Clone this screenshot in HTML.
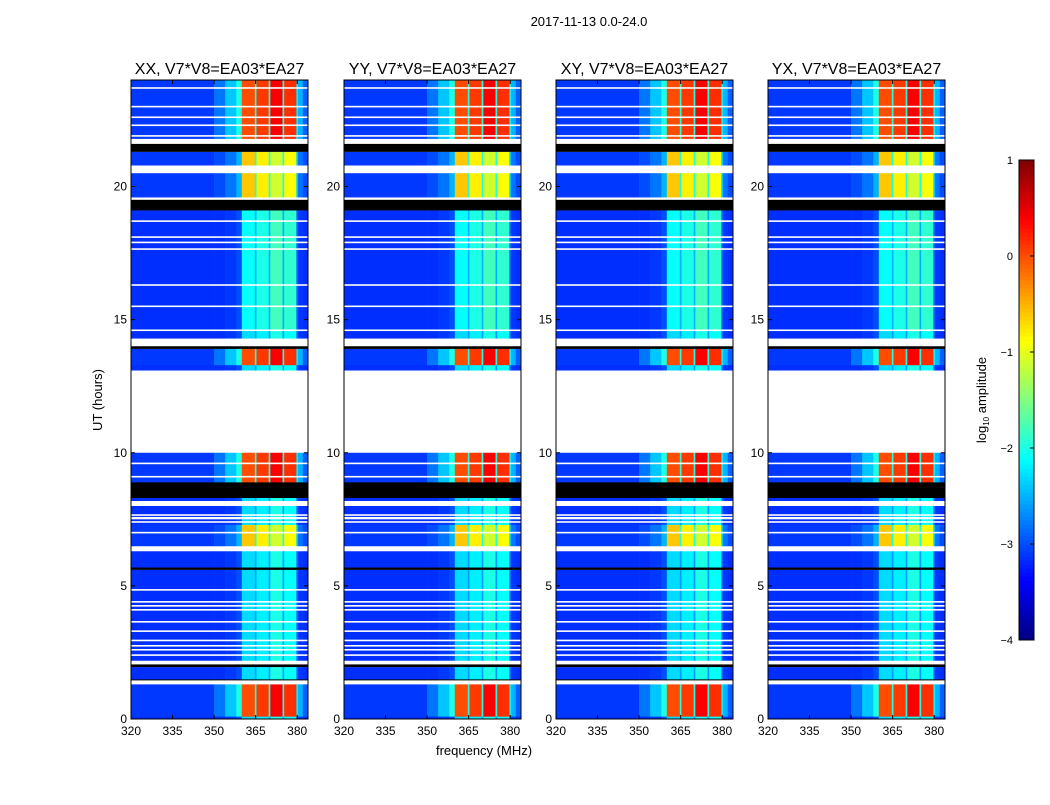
<!DOCTYPE html>
<html><head><meta charset="utf-8">
<style>
body{margin:0;background:#fff;font-family:"Liberation Sans",sans-serif;}
svg text{font-family:"Liberation Sans",sans-serif;}
</style></head>
<body>
<svg id="fig" width="1050" height="800" xmlns="http://www.w3.org/2000/svg">
<rect width="1050" height="800" fill="#fff"/>
<text x="589" y="26" font-size="13" text-anchor="middle">2017-11-13 0.0-24.0</text>
<text transform="translate(102,400) rotate(-90)" font-size="13" text-anchor="middle">UT (hours)</text>
<text x="484" y="755" font-size="13" text-anchor="middle">frequency (MHz)</text>
<g id="panels"></g>
<g id="cbar"></g>
</svg>
<script>
// ---- data ----
const panelTitles = ["XX, V7*V8=EA03*EA27","YY, V7*V8=EA03*EA27","XY, V7*V8=EA03*EA27","YX, V7*V8=EA03*EA27"];
const panelLeft = [131, 344, 556, 768];
const freqEdges = [320,350,354,358,360,364.7,365.3,369.7,370.3,374.7,375.3,379.7,380.3,382,384];
// level (log10 amplitude) per frequency bin, per segment type
const profQuiet  = [-3.15,-3.15,-3.1,-3.0,-2.3,-2.6,-2.2,-2.6,-2.0,-2.6,-2.1,-2.9,-3.1,-3.15];
const profMedium = [-3.15,-3.15,-3.1,-3.0,-2.1,-2.5,-2.0,-2.5,-1.8,-2.5,-1.9,-2.9,-3.1,-3.15];
const profHot    = [-3.1,-2.8,-2.4,-2.0,0.0,-2.0,0.1,-2.0,0.4,-2.0,0.15,-2.2,-2.5,-2.9];
const profYellow = [-3.1,-3.0,-2.8,-2.5,-0.6,-2.0,-0.8,-2.0,-1.1,-2.0,-0.9,-2.4,-2.8,-3.0];
const segStart = [0,0.1,1.3,1.45,1.5,1.95,2.05,2.2,5.6,5.7,6.3,6.5,7.3,7.5,7.6,8.0,8.2,8.3,8.9,10,13.1,13.3,13.9,14.0,14.3,14.6,19.1,19.5,19.6,20.5,20.8,21.3,21.6,21.8];
const segEnd   = [0.1,1.3,1.45,1.5,1.95,2.05,2.2,5.6,5.7,6.3,6.5,7.3,7.5,7.6,8.0,8.2,8.3,8.9,10,13.1,13.3,13.9,14.0,14.3,14.6,19.1,19.5,19.6,20.5,20.8,21.3,21.6,21.8,24];
// 0 white,1 black,2 quiet,3 medium,4 hot,5 yellow
const segType  = [2,4,0,1,2,1,0,2,1,2,0,5,2,0,2,0,2,1,4,0,2,4,1,0,2,3,1,0,5,0,5,1,0,4];
const whiteLines = [2.4,2.6,2.75,2.95,3.3,3.65,4.1,4.25,4.4,4.85,7.0,7.4,7.66,9.1,9.6,14.6,15.5,16.3,17.65,17.9,18.1,18.7,21.9,22.3,22.6,23.0,23.7];
const cbTicks = [1,0,-1,-2,-3,-4];
const xTicks = [320,335,350,365,380];
const yTicks = [0,5,10,15,20];

// ---- scales ----
const Y0=719, Y1=80, VMIN=-4, VMAX=1;
const yS = h => Y0 - h*(Y0-Y1)/24;
const xS = (left,f) => left + (f-320)*2.77;
const profiles = {2:profQuiet,3:profMedium,4:profHot,5:profYellow};
function jet(v){
  let t=(v-VMIN)/(VMAX-VMIN); t=Math.max(0,Math.min(1,t));
  const c=x=>Math.round(255*Math.max(0,Math.min(1,x)));
  const r=c(1.5-Math.abs(4*t-3)), g=c(1.5-Math.abs(4*t-2)), b=c(1.5-Math.abs(4*t-1));
  return `rgb(${r},${g},${b})`;
}
const NS="http://www.w3.org/2000/svg";
function mk(tag,attrs,parent){const e=document.createElementNS(NS,tag);for(const k in attrs)e.setAttribute(k,attrs[k]);parent.appendChild(e);return e;}

const panels=document.getElementById('panels');
panelTitles.forEach((title,p)=>{
  const L=panelLeft[p], R=L+177;
  const g=mk('g',{},panels);
  
  
  for(let s=0;s<segStart.length;s++){
    const t=segType[s]; if(t===0) continue;
    const yt=yS(segEnd[s]), yb=yS(segStart[s]);
    if(t===1){
      const r=mk('rect',{x:L,y:yt,width:177,height:yb-yt,fill:'#000'},g);
      
      
      continue;
    }
    const prof=profiles[t];
    for(let i=0;i<freqEdges.length-1;i++){
      const x0=xS(L,freqEdges[i]), x1=Math.min(R,xS(L,freqEdges[i+1]));
      const r=mk('rect',{x:x0,y:yt,width:x1-x0+0.3,height:yb-yt+0.3,fill:jet(prof[i])},g);
      
      
    }
  }
  whiteLines.forEach(h=>{
    const l=mk('rect',{x:L,y:yS(h)-0.8,width:177,height:1.6,fill:'#fff'},g);
    
    
  });
  const fr=mk('rect',{x:L,y:Y1,width:177,height:Y0-Y1,fill:'none',stroke:'#000','stroke-width':1},g);
  
  
  const tt=mk('text',{x:L+88.5,y:74,'font-size':16,'text-anchor':'middle'},g);
  tt.textContent=title;
  
  
  xTicks.forEach(f=>{
    const x=xS(L,f);
    mk('line',{x1:x,x2:x,y1:Y0,y2:Y0-4,stroke:'#000'},g);
    mk('line',{x1:x,x2:x,y1:Y1,y2:Y1+4,stroke:'#000'},g);
    const tx=mk('text',{x:x,y:Y0+16,'font-size':12,'text-anchor':'middle'},g);
    tx.textContent=f;
    
    
  });
  yTicks.forEach(h=>{
    const y=yS(h);
    mk('line',{x1:L,x2:L+4,y1:y,y2:y,stroke:'#000'},g);
    mk('line',{x1:R,x2:R-4,y1:y,y2:y,stroke:'#000'},g);
    const ty=mk('text',{x:L-4,y:y+4,'font-size':12,'text-anchor':'end'},g);
    ty.textContent=h;
    
    
  });
});

// colorbar
const cb=document.getElementById('cbar');
const CB_T=160, CB_B=640, CB_L=1019, CB_W=15;
const cyS=v=>CB_B-(v-VMIN)*(CB_B-CB_T)/(VMAX-VMIN);
for(let k=0;k<120;k++){
  const v0=VMIN+k*(VMAX-VMIN)/120, v1=VMIN+(k+1)*(VMAX-VMIN)/120;
  mk('rect',{x:CB_L,y:cyS(v1),width:CB_W,height:cyS(v0)-cyS(v1)+0.5,fill:jet((v0+v1)/2)},cb);
}
const cbf=mk('rect',{x:CB_L,y:CB_T,width:CB_W,height:CB_B-CB_T,fill:'none',stroke:'#000'},cb);


cbTicks.forEach(v=>{
  const y=cyS(v);
  mk('line',{x1:CB_L+CB_W-4,x2:CB_L+CB_W,y1:y,y2:y,stroke:'#000'},cb);
  const t=mk('text',{x:CB_L-6,y:y+4,'font-size':11,'text-anchor':'end'},cb);
  t.textContent=(v<0?'\u2212'+(-v):v);
  
  
});
const cl=mk('text',{transform:'translate(986,400) rotate(-90)','font-size':13,'text-anchor':'middle'},cb);
cl.innerHTML='log<tspan font-size="8" dy="3">10</tspan><tspan dy="-3"> amplitude</tspan>';


</script>
</body></html>
